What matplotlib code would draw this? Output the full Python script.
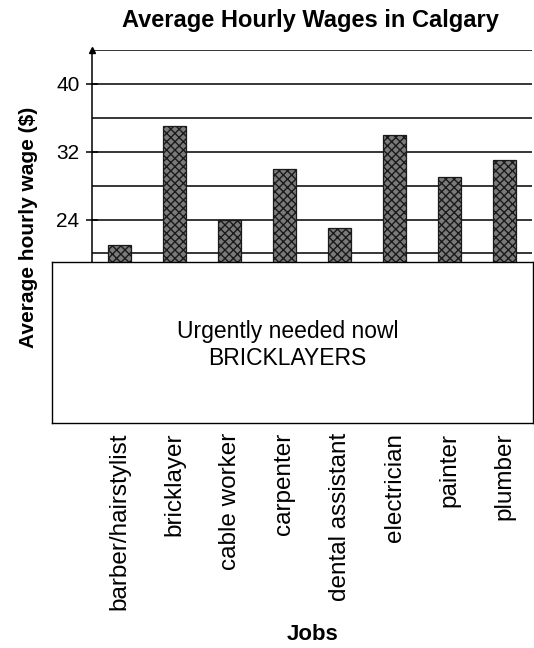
import matplotlib.pyplot as plt

plt.rcParams['font.family'] = ['Liberation Sans', 'DejaVu Sans']
plt.rcParams['hatch.linewidth'] = 1.0

# datos
jobs = ['barber/hairstylist', 'bricklayer', 'cable worker', 'carpenter',
        'dental assistant', 'electrician', 'painter', 'plumber']
wages = [21, 35, 24, 30, 23, 34, 29, 31]
y_ticks = [24, 32, 40]
grid_lines = [4, 8, 12, 16, 20, 24, 28, 32, 36, 40, 44]

W, H = 534, 648
fig = plt.figure(figsize=(W / 100, H / 100), dpi=100)

# ejes principales (en pixeles del original)
left, right, top, bottom = 92, 532, 50, 423
ax = fig.add_axes([left / W, (H - bottom) / H, (right - left) / W, (bottom - top) / H])

for g in grid_lines:
    ax.axhline(g, color='black', lw=1.1, zorder=1)

x = range(len(jobs))
ax.bar(x, wages, width=0.42, color='#7a7a7a', edgecolor='#1a1a1a',
       hatch='xxxx', lw=0.9, zorder=2)

ax.set_xlim(-0.5, len(jobs) - 0.5)
ax.set_ylim(0, 44)
ax.set_yticks(y_ticks)
ax.set_xticks(list(x))
ax.set_xticklabels(jobs, rotation=90, fontsize=17.5)
ax.tick_params(axis='x', length=0, pad=7)
ax.tick_params(axis='y', direction='inout', length=8, width=1.1, labelsize=15, pad=5)

for s in ['top', 'right', 'bottom']:
    ax.spines[s].set_visible(False)
ax.spines['left'].set_linewidth(1.1)
ax.plot(0, 1.0, marker='^', color='black', markersize=5,
        transform=ax.transAxes, clip_on=False, zorder=5)

# recuadro blanco que tapa la parte baja
bx0, bx1, by0, by1 = 52, 533, 262, 423
box = fig.add_axes([bx0 / W, (H - by1) / H, (bx1 - bx0) / W, (by1 - by0) / H])
box.set_facecolor('white')
box.set_xticks([])
box.set_yticks([])
for s in box.spines.values():
    s.set_linewidth(1.0)
box.text(0.49, 0.57, 'Urgently needed nowl', ha='center', va='center', fontsize=16.5,
         transform=box.transAxes)
box.text(0.49, 0.40, 'BRICKLAYERS', ha='center', va='center', fontsize=16.5,
         transform=box.transAxes)

fig.text(310 / W, 1 - 21 / H, 'Average Hourly Wages in Calgary', ha='center', va='center',
         fontsize=17, fontweight='bold')
fig.text(29 / W, 1 - 227 / H, 'Average hourly wage ($)', ha='center', va='center',
         rotation=90, fontsize=15, fontweight='bold')
fig.text(313 / W, 1 - 635 / H, 'Jobs', ha='center', va='center',
         fontsize=16, fontweight='bold')

fig.savefig('out.png', dpi=100)
